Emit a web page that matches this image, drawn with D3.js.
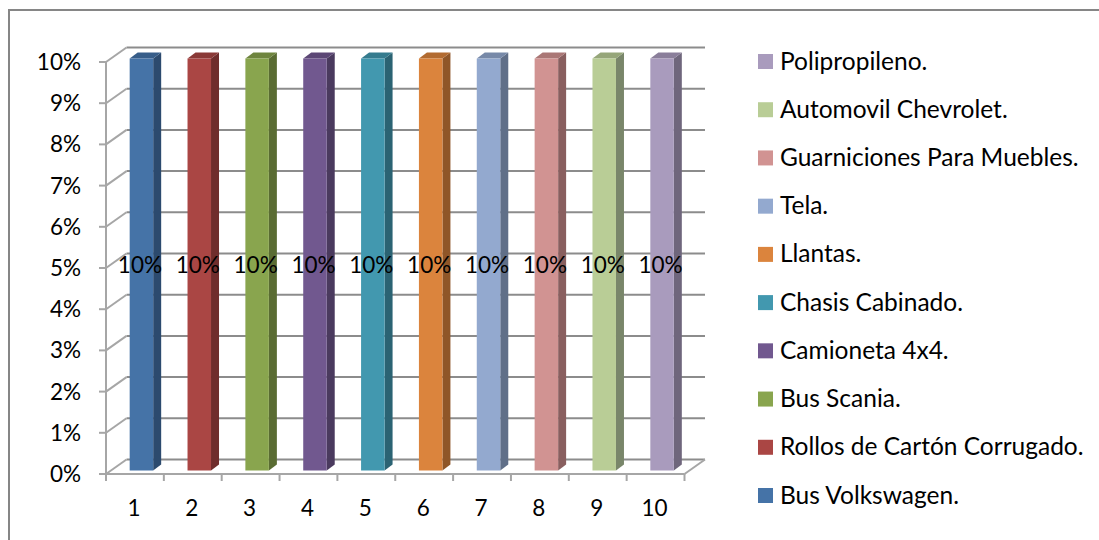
<!DOCTYPE html>
<html><head><meta charset="utf-8">
<script src="https://cdn.jsdelivr.net/npm/d3@7"></script>
<style>html,body{margin:0;padding:0;background:#fff}svg{display:block}text{font-family:Lato,"Open Sans",sans-serif;fill:#000}</style>
</head><body><svg id="c" width="1099" height="540"></svg>
<script>
const categories = ["1","2","3","4","5","6","7","8","9","10"];
const seriesNames = ["Bus Volkswagen.","Rollos de Cartón Corrugado.","Bus Scania.","Camioneta 4x4.","Chasis Cabinado.","Llantas.","Tela.","Guarniciones Para Muebles.","Automovil Chevrolet.","Polipropileno."];
const values = [10,10,10,10,10,10,10,10,10,10];
const dataLabels = ["10%","10%","10%","10%","10%","10%","10%","10%","10%","10%"];
const colors = ["#4573a7","#aa4644","#89a54e","#71588f","#4298af","#db843d","#93a9cf","#d19392","#b9cd96","#a99bbd"];
const sideColors = ["#2c4a6e","#6f2d2c","#5a6c33","#4a3a5e","#2b6373","#8f5628","#606f88","#895f5f","#79866a","#6f667c"];
const topColors = ["#375d89","#8a3937","#6f853f","#5c4775","#357b8e","#b26b31","#7789a8","#aa7776","#96a67a","#8a7e9a"];
const yTicks = [0,1,2,3,4,5,6,7,8,9,10];

const svg = d3.select("#c");
const grid = "#8c8c8c", axis = "#a6a6a6";
const depth = {dx:20.5, dy:-14.5};
const x = d3.scaleBand().domain(categories).range([106,684.5]);
const y = d3.scaleLinear().domain([0,10]).range([474,62]);

// chart frame: only the top and left edges show in the picture
svg.append("path").attr("d","M9,540V10H1099").attr("fill","none").attr("stroke","#868686").attr("stroke-width",2);

const g = svg.append("g").attr("fill","none");
yTicks.forEach(t=>{
  const yy = y(t);
  g.append("line").attr("x1",x.range()[0]+depth.dx).attr("x2",x.range()[1]+depth.dx)
    .attr("y1",yy+depth.dy).attr("y2",yy+depth.dy).attr("stroke",grid).attr("stroke-width",2);
  g.append("line").attr("x1",x.range()[0]).attr("x2",x.range()[0]+depth.dx)
    .attr("y1",yy).attr("y2",yy+depth.dy).attr("stroke",axis).attr("stroke-width",2);
  g.append("line").attr("x1",x.range()[0]-7).attr("x2",x.range()[0])
    .attr("y1",yy).attr("y2",yy).attr("stroke",axis).attr("stroke-width",2);
});
g.append("line").attr("x1",x.range()[1]).attr("x2",x.range()[1]+depth.dx)
  .attr("y1",y(0)).attr("y2",y(0)+depth.dy).attr("stroke",axis).attr("stroke-width",2);
g.append("line").attr("x1",x.range()[0]).attr("x2",x.range()[0]).attr("y1",y(10)).attr("y2",y(0)).attr("stroke",axis).attr("stroke-width",2);
g.append("line").attr("x1",x.range()[0]).attr("x2",x.range()[1]).attr("y1",y(0)).attr("y2",y(0)).attr("stroke",axis).attr("stroke-width",2);
x.domain().concat(["end"]).forEach((c,i)=>{
  const xx = x.range()[0]+i*x.step();
  g.append("line").attr("x1",xx).attr("x2",xx).attr("y1",y(0)).attr("y2",y(0)+7).attr("stroke",axis).attr("stroke-width",2);
});

const bw = 23.5, sd = {dx:8, dy:-6}, baseShift = {dx:6.5, dy:-3.5};
const bars = svg.append("g").selectAll("g").data(values).join("g");
const bx = (d,i)=>x(categories[i])+x.bandwidth()/2-bw/2+baseShift.dx;
const by0 = y(0)+baseShift.dy, by = d=>y(d)+baseShift.dy;
bars.append("path").attr("fill",(d,i)=>sideColors[i]).attr("d",(d,i)=>{
  const r=bx(d,i)+bw;
  return `M${r},${by(d)}L${r+sd.dx},${by(d)+sd.dy}L${r+sd.dx},${by0+sd.dy}L${r},${by0}Z`;});
bars.append("path").attr("fill",(d,i)=>topColors[i]).attr("d",(d,i)=>{
  const l=bx(d,i),r=l+bw;
  return `M${l},${by(d)}L${l+sd.dx},${by(d)+sd.dy}L${r+sd.dx},${by(d)+sd.dy}L${r},${by(d)}Z`;});
bars.append("rect").attr("fill",(d,i)=>colors[i]).attr("x",bx).attr("y",by).attr("width",bw).attr("height",d=>by0-by(d));

const fs = 22.5;
svg.append("g").selectAll("text").data(yTicks).join("text").attr("x",81).attr("y",d=>y(d)+8)
  .attr("text-anchor","end").attr("font-size",fs).text(d=>d+"%");
svg.append("g").selectAll("text").data(categories).join("text").attr("x",(d)=>x(d)+x.bandwidth()/2-1).attr("y",516)
  .attr("text-anchor","middle").attr("font-size",fs).text(d=>d);
svg.append("g").selectAll("text").data(dataLabels).join("text").attr("x",(d,i)=>x(categories[i])+x.bandwidth()/2+5)
  .attr("y",273).attr("text-anchor","middle").attr("font-size",fs).text(d=>d);

const legY = d3.scalePoint().domain(d3.range(10)).range([61.5,495.5]);
const leg = svg.append("g").selectAll("g").data(seriesNames.map((n,i)=>({n,c:colors[i]})).reverse()).join("g")
  .attr("transform",(d,i)=>`translate(0,${legY(i)})`);
leg.append("rect").attr("x",758).attr("y",-7.5).attr("width",15).attr("height",15).attr("fill",d=>d.c);
leg.append("text").attr("x",780).attr("y",8).attr("font-size",24.5).text(d=>d.n);
</script></body></html>
